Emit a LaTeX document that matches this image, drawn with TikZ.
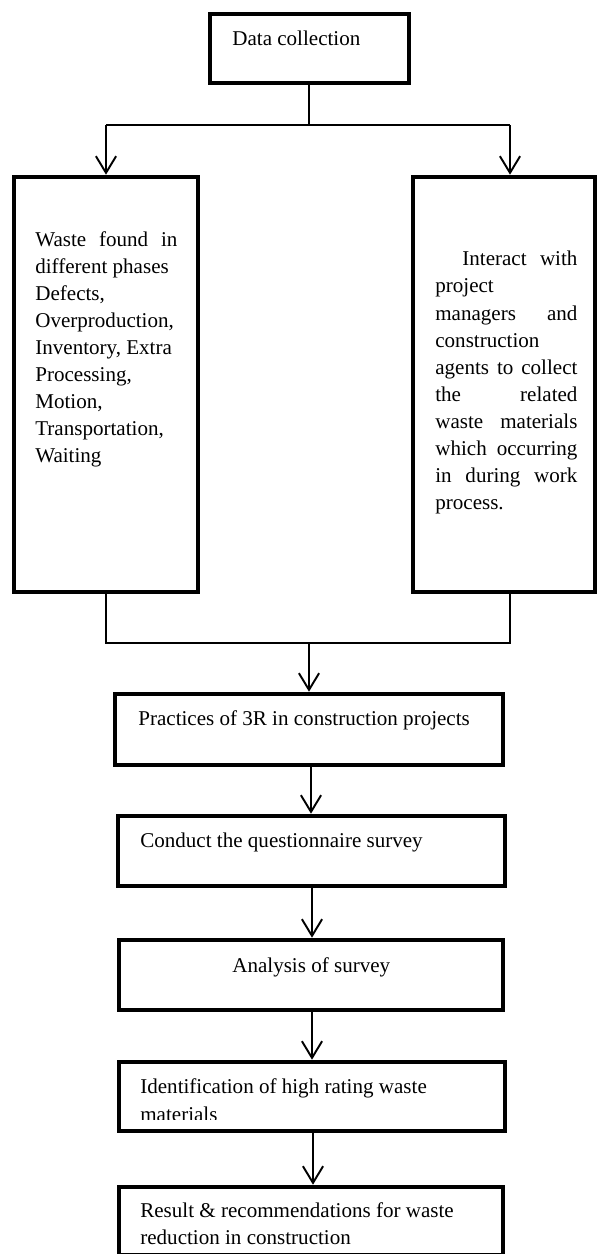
\documentclass[tikz,border=0pt]{standalone}
\usepackage{fontspec}
\setmainfont{Liberation Serif}
\usetikzlibrary{arrows.meta,fit}
\newcommand{\jline}[1]{\makebox[81pt][s]{#1}}
\newcommand{\lline}[1]{\makebox[81pt][l]{#1}}
\begin{document}
\begin{tikzpicture}[x=0.57pt,y=-0.57pt,
  box/.style={draw=black,line width=2.6pt,inner sep=0pt,fill=none},
  conn/.style={draw=black,line width=1.1pt},
  arr/.style={conn,-{Straight Barb[length=9.5pt,width=11.5pt,line width=1.1pt]}},
  txt/.style={inner sep=0pt,anchor=base west,font=\fontsize{12}{15.4}\selectfont},
  para/.style={inner sep=0pt,anchor=north west,align=left,font=\fontsize{12}{15.4}\selectfont}]
\useasboundingbox (0,0) rectangle (598,1254);
% boxes
\node[box,fit={(210,14) (409,83)}] (dc) {};
\node[box,fit={(14,177) (198,592)}] (lb) {};
\node[box,fit={(413,177) (595,592)}] (rb) {};
\node[box,fit={(115,694) (503,765)}] (pr) {};
\node[box,fit={(118,816) (505,886)}] (cq) {};
\node[box,fit={(119,940) (503,1010)}] (an) {};
\node[box,fit={(119,1062) (505,1131)}] (id) {};
\node[box,fit={(119,1187) (503,1255)}] (re) {};
% texts
\node[txt] (tdc) at (232,45) {Data collection};
\node[para] (tlb) at (35,231) {\jline{Waste found in}\\ \lline{different phases}\\ \lline{Defects,}\\ \lline{Overproduction,}\\ \lline{Inventory, Extra}\\ \lline{Processing,}\\ \lline{Motion,}\\ \lline{Transportation,}\\ \lline{Waiting}};
\node[para] (trb) at (435,251) {\jline{\hspace*{15.4pt}Interact with}\\ \lline{project}\\ \jline{managers and}\\ \lline{construction}\\ \jline{agents to collect}\\ \jline{the related}\\ \jline{waste materials}\\ \jline{which occurring}\\ \jline{in during work}\\ \lline{process.}};
\node[txt] (tpr) at (138,725) {Practices of 3R in construction projects};
\node[txt] (tcq) at (140,847) {Conduct the questionnaire survey};
\node[txt] (tan) at (232,972) {Analysis of survey};
\node[txt] (tid) at (140,1093) {Identification of high rating waste};
\begin{scope}
\clip (122,1064) rectangle (503,1119);
\node[txt] (tid2) at (140,1121) {materials};
\end{scope}
\node[txt] (tre) at (140,1217) {Result \& recommendations for waste};
\node[txt] (tre2) at (140,1244) {reduction in construction};
% connectors
\coordinate (j1) at (309,125);
\coordinate (jl1) at (106,125);
\coordinate (jr1) at (510,125);
\coordinate (bl) at (106,643);
\coordinate (br) at (510,643);
\coordinate (j2) at (309,643);
\coordinate (c1) at (311,0);
\coordinate (c2) at (312,0);
\coordinate (c3) at (313,0);
\draw[conn] (dc.south -| j1) -- (j1);
\draw[conn] (jl1) -- (jr1);
\draw[arr] (jl1) -- (jl1 |- lb.north);
\draw[arr] (jr1) -- (jr1 |- rb.north);
\draw[conn] (lb.south -| bl) -- (bl) -- (br) -- (rb.south -| br);
\draw[arr] (j2) -- (j2 |- pr.north);
\draw[arr] (pr.south -| c1) -- (cq.north -| c1);
\draw[arr] (cq.south -| c2) -- (an.north -| c2);
\draw[arr] (an.south -| c2) -- (id.north -| c2);
\draw[arr] (id.south -| c3) -- (re.north -| c3);
\end{tikzpicture}
\end{document}
